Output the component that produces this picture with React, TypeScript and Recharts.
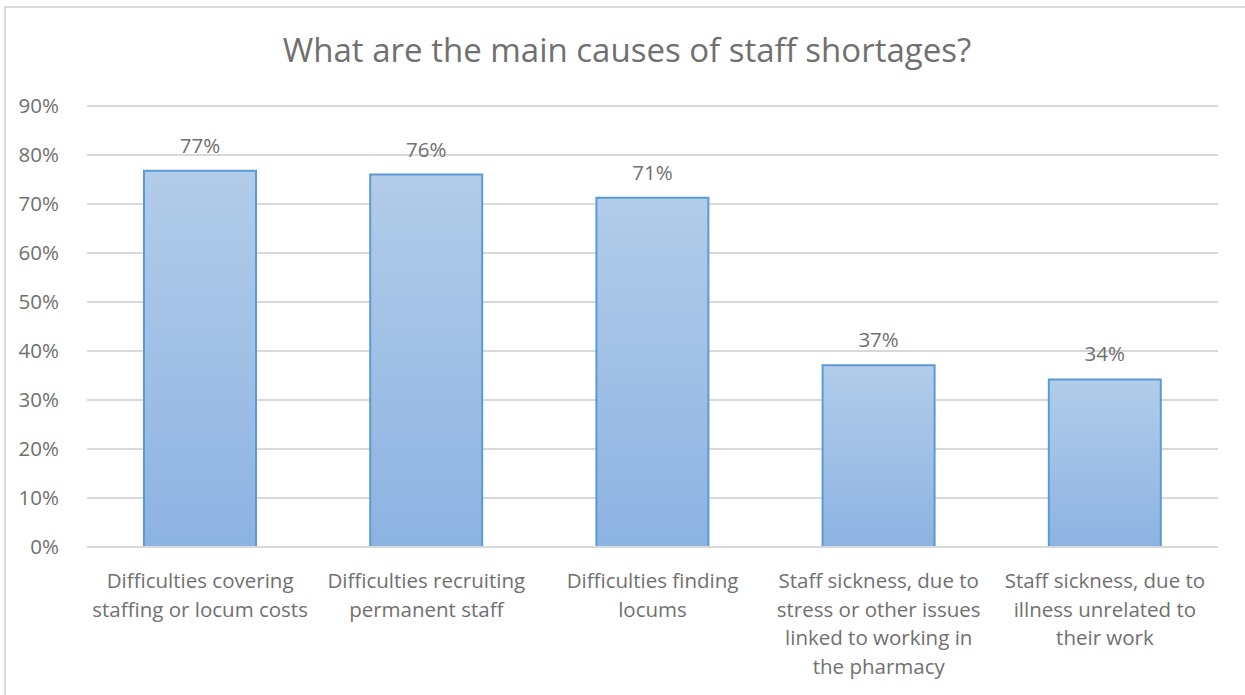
import { BarChart, Bar, XAxis, YAxis, CartesianGrid, LabelList } from 'recharts';

// Категории (с переносами строк, как на исходной картинке)
const categories = [
  'Difficulties covering\nstaffing or locum costs',
  'Difficulties recruiting\npermanent staff',
  'Difficulties finding\nlocums',
  'Staff sickness, due to\nstress or other issues\nlinked to working in\nthe pharmacy',
  'Staff sickness, due to\nillness unrelated to\ntheir work',
];

// Доли ответов, %
const shares = [76.8, 76.0, 71.3, 37.1, 34.2];

// Деления оси Y
const yTicks = [0, 10, 20, 30, 40, 50, 60, 70, 80, 90];

const chartData = categories.map((name, i) => ({ name, value: shares[i] }));

const TEXT_COLOR = '#707070';
const FONT = '"Open Sans", "Noto Sans", sans-serif';

// Подпись категории в несколько строк
function CategoryTick(props: any) {
  const { x, y, payload } = props;
  const lines = String(payload.value).split('\n');
  return (
    <g transform={`translate(${x},${y})`}>
      {lines.map((line, i) => (
        <text
          key={i}
          x={0}
          y={33 + i * 28.5}
          textAnchor="middle"
          fill={TEXT_COLOR}
          fontSize={20.5}
          fontFamily={FONT}
        >
          {line}
        </text>
      ))}
    </g>
  );
}

export default function App() {
  return (
    <div
      style={{
        position: 'absolute',
        left: 0,
        top: 0,
        width: 1245,
        height: 695,
        overflow: 'hidden',
        background: '#fff',
      }}
    >
      {/* Рамка диаграммы: видны только левая и верхняя стороны */}
      <div
        style={{
          position: 'absolute',
          left: 4,
          top: 6,
          width: 1245,
          height: 695,
          borderLeft: '2px solid #d9d9d9',
          borderTop: '2px solid #d9d9d9',
        }}
      />
      <div
        style={{
          position: 'absolute',
          left: 0,
          top: 28,
          width: 1254,
          textAlign: 'center',
          fontFamily: FONT,
          fontSize: 33,
          color: TEXT_COLOR,
          lineHeight: '44px',
        }}
      >
        What are the main causes of staff shortages?
      </div>
      <div style={{ position: 'absolute', left: 0, top: 0 }}>
        <BarChart
          width={1245}
          height={695}
          data={chartData}
          margin={{ top: 106, right: 27, left: 7, bottom: 7 }}
        >
          <defs>
            <linearGradient id="barFill" x1="0" y1="0" x2="0" y2="1">
              <stop offset="0%" stopColor="#b2cce9" />
              <stop offset="100%" stopColor="#8db3e2" />
            </linearGradient>
          </defs>
          <CartesianGrid vertical={false} stroke="#d9d9d9" strokeWidth={2} />
          <XAxis
            dataKey="name"
            interval={0}
            tick={<CategoryTick />}
            tickLine={false}
            axisLine={{ stroke: '#d9d9d9', strokeWidth: 2 }}
            height={141}
          />
          <YAxis
            domain={[0, 90]}
            ticks={yTicks}
            tickFormatter={(v: number) => `${v}%`}
            axisLine={false}
            tickLine={false}
            width={80}
            tickMargin={22}
            tick={{ fill: TEXT_COLOR, fontSize: 20.5, fontFamily: FONT }}
          />
          <Bar
            dataKey="value"
            barSize={112}
            fill="url(#barFill)"
            stroke="#5b9bd5"
            strokeWidth={2}
            isAnimationActive={false}
          >
            <LabelList
              dataKey="value"
              position="top"
              offset={18}
              formatter={(v: any) => `${Math.round(Number(v))}%`}
              fill={TEXT_COLOR}
              fontSize={20.5}
              fontFamily={FONT}
            />
          </Bar>
        </BarChart>
      </div>
    </div>
  );
}
